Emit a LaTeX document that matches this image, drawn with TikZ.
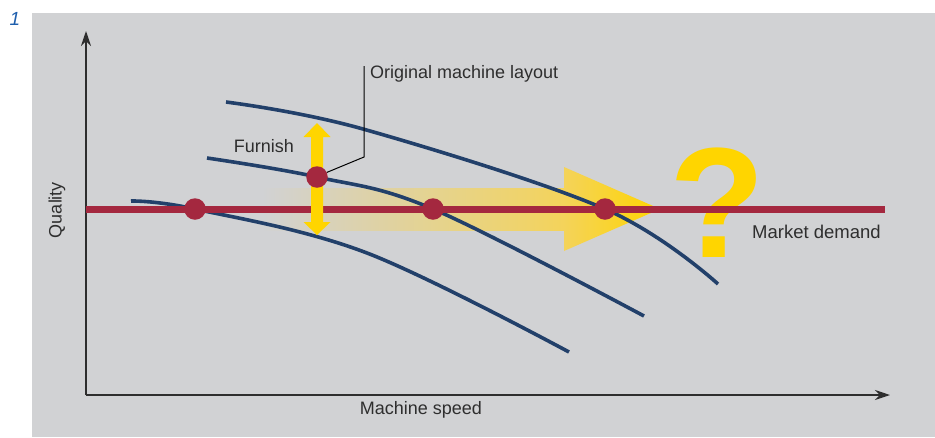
\documentclass[tikz,border=0pt]{standalone}
\usepackage{fontspec}
\setmainfont{Liberation Sans}
\usetikzlibrary{arrows.meta,shadings}
\definecolor{bg}{HTML}{D1D2D4}
\definecolor{redl}{HTML}{A4283F}
\definecolor{bluel}{HTML}{22406A}
\definecolor{yel}{HTML}{FFD500}
\definecolor{yelsoft}{HTML}{F4D35A}
\definecolor{txt}{HTML}{2E2E2E}
\definecolor{numblue}{HTML}{1F5FAD}
\tikzset{
  lbl/.style={text=txt, inner sep=0pt, font=\fontsize{18}{21}\selectfont},
  curve/.style={draw=bluel, line width=3.6pt, line cap=butt},
  axis/.style={draw=txt, line width=1.4pt, -{Stealth[length=15pt,width=10pt]}},
  dot/.style={circle, fill=redl, minimum size=21.5pt, inner sep=0pt},
}
\begin{document}
\begin{tikzpicture}[x=1pt,y=-1pt]
\useasboundingbox (0,0) rectangle (935,437);
\fill[bg] (32,13) rectangle (935,437);
\node[text=numblue, font=\fontsize{19}{22}\selectfont\itshape, inner sep=0pt] (num) at (15,18.5) {1};

% shaded big arrow
\shade[left color=bg, right color=yelsoft, middle color=bg!50!yelsoft] (262,188) rectangle (565,230);
\shade[left color=yelsoft, right color=yel] (564,167) -- (660,209) -- (564,251) -- cycle;

% axes
\coordinate (O) at (86,395);
\coordinate (ytop) at (86,31);
\coordinate (xend) at (890,395);
\draw[axis] (O) -- (ytop);
\draw[axis] (O) -- (xend);
\node[lbl, rotate=90] (q) at (57,210) {Quality};
\node[lbl] (ms) at (421,410) {Machine speed};

% curves
\draw[curve] plot[smooth, tension=0.6] coordinates {(131,201) (195,209) (367,253) (569,352)};
\draw[curve] plot[smooth, tension=0.6] coordinates {(207,158) (317,177) (433,209) (644,316)};
\draw[curve] plot[smooth, tension=0.6] coordinates {(226,102) (363,129) (605,209) (718,284)};

% question mark
\node[text=yel, font=\fontsize{157}{160}\selectfont\bfseries, inner sep=0pt, anchor=base] (qm) at (717,257) {?};

% market demand line
\coordinate (ml) at (86,209);
\coordinate (mr) at (885,209);
\draw[redl, line width=7pt] (ml) -- (mr);
\node[lbl, anchor=west, font=\fontsize{18.5}{21}\selectfont] (md) at (752,232) {Market demand};

% vertical yellow double arrow
\fill[yel] (317,123) -- (330.5,137) -- (323,137) -- (323,222) -- (330.5,222) -- (317,235)
  -- (303.5,222) -- (311,222) -- (311,137) -- (303.5,137) -- cycle;
\node[lbl, anchor=east] (fur) at (294,146) {Furnish};

% dots
\node[dot] (d1) at (195,209) {};
\node[dot] (d2) at (317,177) {};
\node[dot] (d3) at (433,209) {};
\node[dot] (d4) at (605,209) {};

% leader
\coordinate (lk) at (364,157);
\coordinate (lt) at (364,66);
\draw[black, line width=1pt] (d2.25) -- (lk) -- (lt);
\node[lbl, anchor=west] (oml) at (370,74) {Original machine layout};
\end{tikzpicture}
\end{document}
